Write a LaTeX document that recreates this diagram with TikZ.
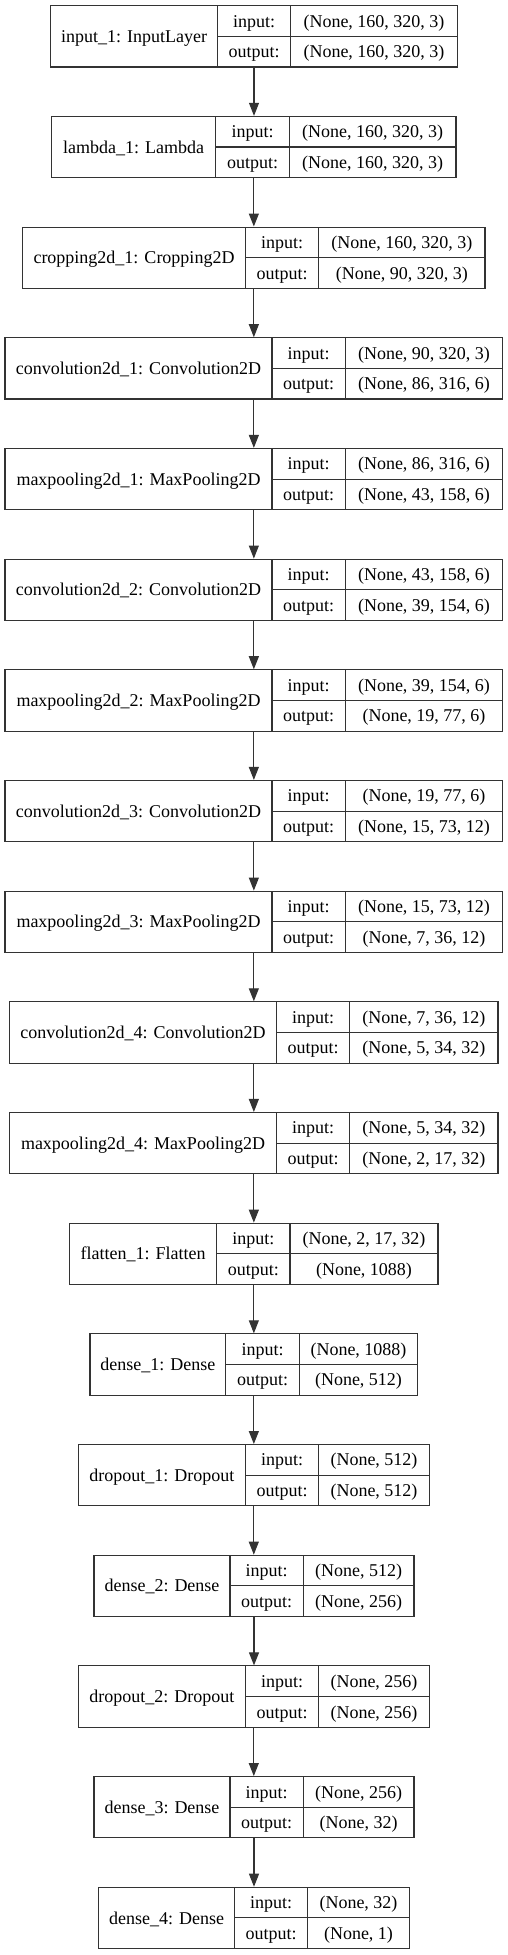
\documentclass[tikz,border=0pt]{standalone}
\usepackage{fontspec}
\setmainfont{Liberation Serif}
\usetikzlibrary{arrows.meta}
\newcommand\nnlayer[9]{%
  \pgfmathsetmacro\lyT{5.7+110.68*#2}%
  \pgfmathsetmacro\lyB{\lyT+61.3}%
  \pgfmathsetmacro\lyM{\lyT+30.65}%
  \node[box, minimum width={(#6-#3)*1pt}, minimum height=61.3pt] (L#2) at ({(#3+#6)/2},\lyM) {};
  \draw[ln] (#4,\lyT) -- (#4,\lyB) (#5,\lyT) -- (#5,\lyB) (#4,\lyM) -- (#6,\lyM);
  \node[txt] (L#2-name) at ({(#3+#4)/2},\lyM+6.1) {#7};
  \node[txt] (L#2-inl) at ({(#4+#5)/2},\lyT+15.33+6.1) {input:};
  \node[txt] (L#2-outl) at ({(#4+#5)/2},\lyT+45.98+6.1) {output:};
  \node[txt] (L#2-in) at ({(#5+#6)/2},\lyT+15.33+6.1) {#8};
  \node[txt] (L#2-out) at ({(#5+#6)/2},\lyT+45.98+6.1) {#9};
}
\begin{document}
\begin{tikzpicture}[x=1pt,y=-1pt,
  box/.style={draw=black!80, line width=1.1pt, rectangle, inner sep=0pt},
  ln/.style={draw=black!80, line width=1.1pt},
  txt/.style={anchor=base, inner sep=0pt, font=\fontsize{18}{20}\selectfont},
  arr/.style={draw=black!80, line width=1.1pt, -{Triangle[length=13pt,width=10pt]}}]
\useasboundingbox (0,0) rectangle (508,1955);
\nnlayer{input\_1: InputLayer}{0}{50.7}{217.3}{290.7}{457.3}{input\_1: InputLayer}{(None, 160, 320, 3)}{(None, 160, 320, 3)}
\nnlayer{}{1}{51.7}{215.7}{289.3}{456}{lambda\_1: Lambda}{(None, 160, 320, 3)}{(None, 160, 320, 3)}
\nnlayer{}{2}{22.7}{245.3}{318.7}{485}{cropping2d\_1: Cropping2D}{(None, 160, 320, 3)}{(None, 90, 320, 3)}
\nnlayer{}{3}{5}{272}{345.3}{502.7}{convolution2d\_1: Convolution2D}{(None, 90, 320, 3)}{(None, 86, 316, 6)}
\nnlayer{}{4}{5}{272}{345.3}{502.7}{maxpooling2d\_1: MaxPooling2D}{(None, 86, 316, 6)}{(None, 43, 158, 6)}
\nnlayer{}{5}{5}{272}{345.3}{502.7}{convolution2d\_2: Convolution2D}{(None, 43, 158, 6)}{(None, 39, 154, 6)}
\nnlayer{}{6}{5}{272}{345.3}{502.7}{maxpooling2d\_2: MaxPooling2D}{(None, 39, 154, 6)}{(None, 19, 77, 6)}
\nnlayer{}{7}{5}{272}{345.3}{502.7}{convolution2d\_3: Convolution2D}{(None, 19, 77, 6)}{(None, 15, 73, 12)}
\nnlayer{}{8}{5}{272}{345.3}{502.7}{maxpooling2d\_3: MaxPooling2D}{(None, 15, 73, 12)}{(None, 7, 36, 12)}
\nnlayer{}{9}{9.7}{276.3}{349.7}{498}{convolution2d\_4: Convolution2D}{(None, 7, 36, 12)}{(None, 5, 34, 32)}
\nnlayer{}{10}{9.7}{276.3}{349.7}{498}{maxpooling2d\_4: MaxPooling2D}{(None, 5, 34, 32)}{(None, 2, 17, 32)}
\nnlayer{}{11}{69.7}{216.7}{290}{438}{flatten\_1: Flatten}{(None, 2, 17, 32)}{(None, 1088)}
\nnlayer{}{12}{90}{225.7}{299.3}{417.7}{dense\_1: Dense}{(None, 1088)}{(None, 512)}
\nnlayer{}{13}{78.3}{245.3}{318.7}{429.3}{dropout\_1: Dropout}{(None, 512)}{(None, 512)}
\nnlayer{}{14}{94}{230}{303.3}{414}{dense\_2: Dense}{(None, 512)}{(None, 256)}
\nnlayer{}{15}{78.3}{245.3}{318.7}{429.3}{dropout\_2: Dropout}{(None, 256)}{(None, 256)}
\nnlayer{}{16}{94}{230}{303.3}{414}{dense\_3: Dense}{(None, 256)}{(None, 32)}
\nnlayer{}{17}{98.7}{234.7}{307.7}{409.3}{dense\_4: Dense}{(None, 32)}{(None, 1)}
\foreach \i [evaluate=\i as \j using int(\i+1)] in {0,...,16}
  \draw[arr] (L\i.south) -- (L\i.south |- L\j.north);
\end{tikzpicture}
\end{document}
